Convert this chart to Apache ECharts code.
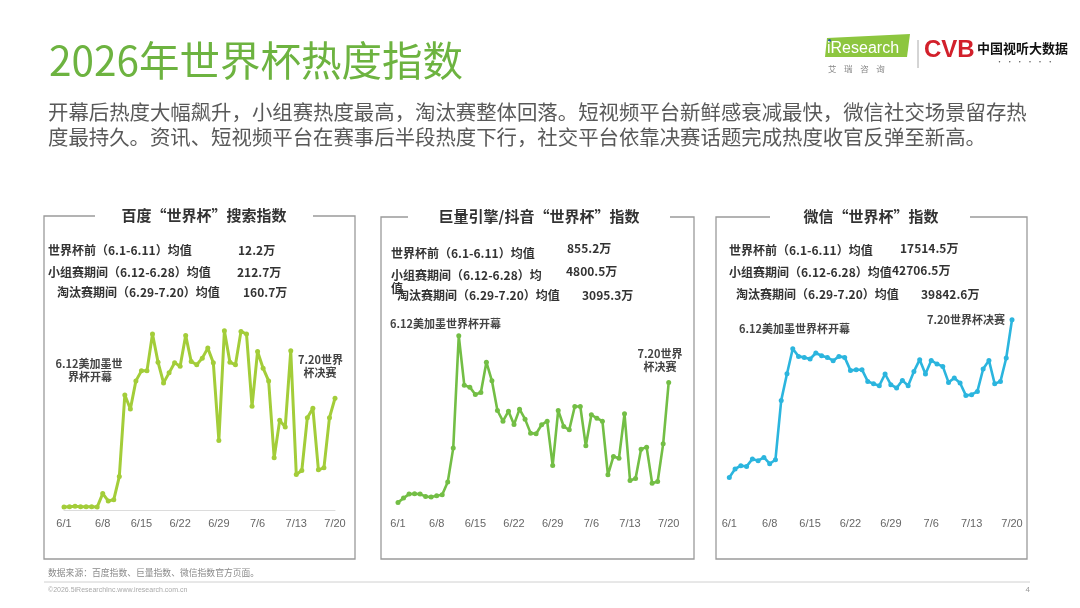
<!DOCTYPE html>
<html>
<head>
<meta charset="utf-8">
<script src="https://cdn.jsdelivr.net/npm/echarts@6/dist/echarts.min.js"></script>
<style>
html,body{margin:0;padding:0;background:#fff;}
#chart{width:1080px;height:608px;}
</style>
</head>
<body>
<div id="chart"></div>
<script>
// ---------- data ----------
const dates = ['6/1','6/2','6/3','6/4','6/5','6/6','6/7','6/8','6/9','6/10',
  '6/11','6/12','6/13','6/14','6/15','6/16','6/17','6/18','6/19','6/20',
  '6/21','6/22','6/23','6/24','6/25','6/26','6/27','6/28','6/29','6/30',
  '7/1','7/2','7/3','7/4','7/5','7/6','7/7','7/8','7/9','7/10',
  '7/11','7/12','7/13','7/14','7/15','7/16','7/17','7/18','7/19','7/20'];

// 百度“世界杯”搜索指数（万）
const baiduIndex = [4.5,5,5.5,5,5,5,4.5,24.5,13.5,15.5,50,
  172,151,193,208,208,263,221,190,205,220,215,261,222,217,227,242,220,
  104,268,221,217,267,263,155,237,212,193,78,134,124,238,53,59,138,152,60,63,138,167];

// 巨量引擎/抖音“世界杯”指数（万）
const douyinIndex = [335,532,711,725,711,604,577,635,680,1248,2769,
  7792,5586,5496,5168,5257,6614,5779,4452,3975,4422,3826,4512,4065,3439,3409,3812,3975,
  1992,4452,3736,3587,4631,4631,2872,4258,4109,3975,1574,2395,2320,4303,1321,1411,2723,2812,1202,1276,2961,5705];

// 微信“世界杯”指数（万）
const wechatIndex = [9571,12038,13006,12801,14974,14474,15443,13594,14768,32179,40018,
  47357,45097,44803,44334,46095,45302,44803,43834,45097,44803,40987,41192,41192,37757,37082,36494,39930,
  36788,35819,38051,36494,40693,44128,39930,43923,42866,42161,37463,38755,37287,33647,33852,34821,41398,43923,37082,37757,44627,55872];

const panelTitles = ['百度“世界杯”搜索指数','巨量引擎/抖音“世界杯”指数','微信“世界杯”指数'];
const statLabels = ['世界杯前（6.1-6.11）均值','小组赛期间（6.12-6.28）均值','淘汰赛期间（6.29-7.20）均值'];
const baiduStats = ['12.2万','212.7万','160.7万'];
const douyinStats = ['855.2万','4800.5万','3095.3万'];
const wechatStats = ['17514.5万','42706.5万','39842.6万'];
const xTickLabels = ['6/1','6/8','6/15','6/22','6/29','7/6','7/13','7/20'];

// ---------- chart ----------
const CJK = '"Noto Sans CJK SC", "Noto Sans", sans-serif';
const chart = echarts.init(document.getElementById('chart'), null, {renderer:'canvas'});

function txt(text, x, y, size, color, opts) {
  opts = opts || {};
  const align = opts.align || 'left';
  return {
    type: 'text', z: 10,
    style: {
      text: text, x: x, y: y,
      font: (opts.weight || 'normal') + ' ' + size + 'px ' + (opts.family || CJK),
      fill: color,
      align: align, textAlign: align,
      verticalAlign: 'middle', textVerticalAlign: 'middle'
    }
  };
}
function poly(points, color, w) {
  return { type: 'polyline', z: 5, shape: { points: points },
    style: { stroke: color, lineWidth: w, fill: null } };
}

const gridTop = 318, gridBottomY = 510;
const grids = [
  { left: 64, width: 271 },
  { left: 398, width: 270.7 },
  { left: 729.3, width: 282.7 }
].map(g => ({ left: g.left, width: g.width, top: gridTop, height: gridBottomY - gridTop }));

const colors = ['#a3cd39', '#73be45', '#2bb5de'];
const maxes = [287, 8590, 56370];
const seriesData = [baiduIndex, douyinIndex, wechatIndex];

const xAxes = grids.map((g, i) => ({
  type: 'category', gridIndex: i, data: dates, boundaryGap: false,
  axisLine: { show: i === 0, lineStyle: { color: '#dcdcdc', width: 1 } },
  axisTick: { show: false },
  axisLabel: {
    interval: 6, margin: 8, color: '#666', fontSize: 11,
    fontFamily: '"Liberation Sans", Arial, sans-serif',
    formatter: v => (xTickLabels.indexOf(v) >= 0 ? v : '')
  },
  splitLine: { show: false }
}));
const yAxes = grids.map((g, i) => ({
  type: 'value', gridIndex: i, min: 0, max: maxes[i], show: false,
  splitLine: { show: false }
}));
const series = seriesData.map((d, i) => ({
  type: 'line', xAxisIndex: i, yAxisIndex: i, data: d,
  symbol: 'circle', symbolSize: 5, showSymbol: true, showAllSymbol: true,
  lineStyle: { color: colors[i], width: i === 0 ? 3 : 2.6 },
  itemStyle: { color: colors[i] },
  clip: false, z: 3
}));

const graphics = [];
// page title + subtitle
graphics.push(txt('2026年世界杯热度指数', 49, 61, 40.5, '#6db340'));
graphics.push(txt('开幕后热度大幅飙升，小组赛热度最高，淘汰赛整体回落。短视频平台新鲜感衰减最快，微信社交场景留存热', 48, 112, 20.4, '#595959'));
graphics.push(txt('度最持久。资讯、短视频平台在赛事后半段热度下行，社交平台依靠决赛话题完成热度收官反弹至新高。', 48, 137, 20.4, '#595959'));

// logos
graphics.push({ type: 'polygon', z: 5, shape: { points: [[827,38],[910,34],[907,57],[825,57]] }, style: { fill: '#8dc63f' } });
graphics.push({ type: 'circle', z: 6, shape: { cx: 829.5, cy: 40.5, r: 1.6 }, style: { fill: '#2b5fa8' } });
graphics.push(txt('iResearch', 827, 48.5, 16, '#ffffff', { family: '"Liberation Sans", Arial, sans-serif' }));
graphics.push(txt('艾    瑞    咨    询', 828, 68.5, 8.5, '#888'));
graphics.push({ type: 'line', z: 5, shape: { x1: 918, y1: 40, x2: 918, y2: 68 }, style: { stroke: '#aaa', lineWidth: 1 } });
graphics.push(txt('CVB', 924, 50.5, 24, '#d2202b', { weight: 'bold', family: '"Liberation Sans", Arial, sans-serif' }));
graphics.push(txt('中国视听大数据', 977, 48, 13, '#111', { weight: 'bold' }));
graphics.push(txt('·  ·  ·  ·  ·  ·', 996, 61, 7, '#555'));

// panels
const boxes = [
  { l: 44, r: 355, top: 216, gap: [95, 313], cx: 204 },
  { l: 381, r: 694, top: 217, gap: [408, 670], cx: 539 },
  { l: 716, r: 1027, top: 217, gap: [770, 970], cx: 871 }
];
boxes.forEach((b, i) => {
  graphics.push(poly([[b.gap[0], b.top],[b.l, b.top],[b.l, 559],[b.r, 559],[b.r, b.top],[b.gap[1], b.top]], '#9a9a9a', 1.3));
  graphics.push(txt(panelTitles[i], b.cx, b.top - 1, 15, '#333', { weight: 'bold', align: 'center' }));
});

const SS = 12;
// stats – Baidu
graphics.push(txt(statLabels[0], 48, 250, SS, '#333', { weight: 'bold' }));
graphics.push(txt(baiduStats[0], 238, 250, SS, '#333', { weight: 'bold' }));
graphics.push(txt(statLabels[1], 48, 272, SS, '#333', { weight: 'bold' }));
graphics.push(txt(baiduStats[1], 237, 272, SS, '#333', { weight: 'bold' }));
graphics.push(txt(statLabels[2], 57, 292, SS, '#333', { weight: 'bold' }));
graphics.push(txt(baiduStats[2], 243, 292, SS, '#333', { weight: 'bold' }));
// stats – Douyin (wrapped second line as in original)
graphics.push(txt(statLabels[0], 391, 253, SS, '#333', { weight: 'bold' }));
graphics.push(txt(douyinStats[0], 567, 248, SS, '#333', { weight: 'bold' }));
graphics.push(txt('小组赛期间（6.12-6.28）均', 391, 275, SS, '#333', { weight: 'bold' }));
graphics.push(txt(douyinStats[1], 566, 271, SS, '#333', { weight: 'bold' }));
graphics.push(txt('值', 391, 288, SS, '#333', { weight: 'bold' }));
graphics.push(txt(statLabels[2], 397, 295.5, SS, '#333', { weight: 'bold' }));
graphics.push(txt(douyinStats[2], 582, 295, SS, '#333', { weight: 'bold' }));
// stats – WeChat
graphics.push(txt(statLabels[0], 729, 250, SS, '#333', { weight: 'bold' }));
graphics.push(txt(wechatStats[0], 900, 248.5, SS, '#333', { weight: 'bold' }));
graphics.push(txt(statLabels[1], 729, 272, SS, '#333', { weight: 'bold' }));
graphics.push(txt(wechatStats[1], 892, 270.5, SS, '#333', { weight: 'bold' }));
graphics.push(txt(statLabels[2], 736, 294, SS, '#333', { weight: 'bold' }));
graphics.push(txt(wechatStats[2], 921, 294, SS, '#333', { weight: 'bold' }));

// annotations
graphics.push(txt('6.12美加墨世', 89, 363.5, 11, '#444', { weight: 'bold', align: 'center' }));
graphics.push(txt('界杯开幕', 90, 377, 11, '#444', { weight: 'bold', align: 'center' }));
graphics.push(txt('7.20世界', 320.5, 359.5, 11, '#444', { weight: 'bold', align: 'center' }));
graphics.push(txt('杯决赛', 320, 373, 11, '#444', { weight: 'bold', align: 'center' }));
graphics.push(txt('6.12美加墨世界杯开幕', 390, 323.5, 11, '#444', { weight: 'bold' }));
graphics.push(txt('7.20世界', 660, 354, 11, '#444', { weight: 'bold', align: 'center' }));
graphics.push(txt('杯决赛', 660, 367, 11, '#444', { weight: 'bold', align: 'center' }));
graphics.push(txt('6.12美加墨世界杯开幕', 739, 328.5, 11, '#444', { weight: 'bold' }));
graphics.push(txt('7.20世界杯决赛', 1005, 319.5, 11, '#444', { weight: 'bold', align: 'right' }));

// footer
graphics.push(txt('数据来源：百度指数、巨量指数、微信指数官方页面。', 48, 573, 8.8, '#8a8a8a'));
graphics.push({ type: 'line', z: 5, shape: { x1: 44, y1: 582, x2: 1030, y2: 582 }, style: { stroke: '#d0d0d0', lineWidth: 1 } });
graphics.push(txt('©2026.5iResearchInc.www.iresearch.com.cn', 48, 590.5, 7, '#aaa', { family: '"Liberation Sans", Arial, sans-serif' }));
graphics.push(txt('4', 1030, 589.5, 8, '#999', { align: 'right', family: '"Liberation Sans", Arial, sans-serif' }));

chart.setOption({
  animation: false,
  backgroundColor: '#ffffff',
  grid: grids,
  xAxis: xAxes,
  yAxis: yAxes,
  series: series,
  graphic: { elements: graphics }
});
</script>
</body>
</html>
